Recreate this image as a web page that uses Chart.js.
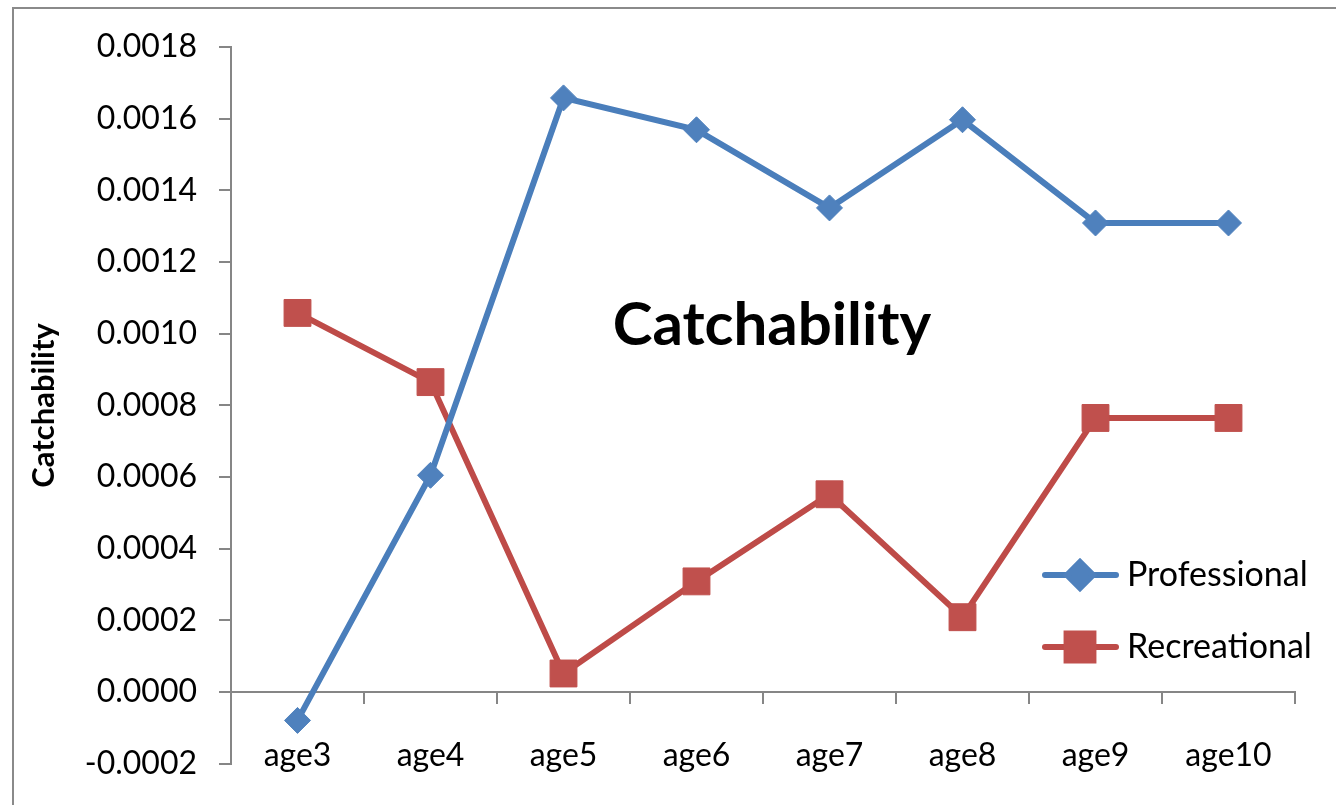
<!DOCTYPE html>
<html>
<head>
<meta charset="utf-8">
<title>Catchability</title>
<script src="https://cdn.jsdelivr.net/npm/chart.js@4"></script>
<style>
  html, body { margin: 0; padding: 0; background: #ffffff; }
  #wrap { position: relative; width: 1336px; height: 805px; }
</style>
</head>
<body>
<div id="wrap"><canvas id="chart" width="1336" height="805"></canvas></div>
<script>
// Catchability by age class for the two fleets
const categories = ['age3', 'age4', 'age5', 'age6', 'age7', 'age8', 'age9', 'age10'];
const professional = [-0.000079, 0.000605, 0.001658, 0.001569, 0.001351, 0.001597, 0.001309, 0.001309];
const recreational = [0.001058, 0.000865, 0.000052, 0.000309, 0.000552, 0.000209, 0.000765, 0.000765];
const seriesNames = ['Professional', 'Recreational'];

// Value axis range and step
const yMin = -0.0002;
const yMax = 0.0018;
const yStep = 0.0002;
const tickDecimals = 4;

const chartTitle = 'Catchability';
const yAxisTitle = 'Catchability';

const FONT = 'Lato';
const AXIS_GREY = '#868686';
const BLUE_LINE = '#4A7EBB', BLUE_MARK = '#4F81BD';
const RED_LINE = '#BE4B48', RED_MARK = '#C0504D';

// Frame, in-plot title and legend
const overlay = {
  id: 'overlay',
  beforeDraw(chart) {
    const ctx = chart.ctx;
    ctx.save();
    ctx.strokeStyle = '#8a8a8a';
    ctx.lineWidth = 2;
    ctx.strokeRect(13, 8, 1400, 900);
    ctx.restore();
  },
  afterDraw(chart) {
    const ctx = chart.ctx;
    ctx.save();
    // title inside the plot
    ctx.fillStyle = '#000';
    ctx.font = 'bold 60px ' + FONT;
    ctx.textAlign = 'center';
    ctx.textBaseline = 'middle';
    ctx.fillText(chartTitle, 772, 326);

    // legend
    const items = [
      { name: seriesNames[0], line: BLUE_LINE, mark: BLUE_MARK, style: 'rectRot', r: 13, y: 575 },
      { name: seriesNames[1], line: RED_LINE, mark: RED_MARK, style: 'rect', r: 19, y: 647 }
    ];
    items.forEach(it => {
      ctx.strokeStyle = it.line;
      ctx.lineWidth = 6;
      ctx.lineCap = 'round';
      ctx.beginPath();
      ctx.moveTo(1045, it.y);
      ctx.lineTo(1116, it.y);
      ctx.stroke();
      ctx.fillStyle = it.mark;
      ctx.strokeStyle = it.mark;
      Chart.helpers.drawPoint(ctx, { pointStyle: it.style, radius: it.r, rotation: 0, borderWidth: 1 }, 1080, it.y);
      ctx.fillStyle = '#000';
      ctx.font = '34px ' + FONT;
      ctx.textAlign = 'left';
      ctx.textBaseline = 'middle';
      ctx.fillText(it.name, 1127, it.y);
    });
    ctx.restore();
  }
};

new Chart(document.getElementById('chart'), {
  type: 'line',
  data: {
    labels: categories,
    datasets: [
      {
        label: seriesNames[0],
        data: professional,
        borderColor: BLUE_LINE,
        borderWidth: 6,
        pointStyle: 'rectRot',
        pointRadius: 13,
        pointBackgroundColor: BLUE_MARK,
        pointBorderColor: BLUE_MARK,
        pointBorderWidth: 1,
        tension: 0
      },
      {
        label: seriesNames[1],
        data: recreational,
        borderColor: RED_LINE,
        borderWidth: 6,
        pointStyle: 'rect',
        pointRadius: 19,
        pointBackgroundColor: RED_MARK,
        pointBorderColor: RED_MARK,
        pointBorderWidth: 1,
        tension: 0
      }
    ]
  },
  options: {
    responsive: false,
    animation: false,
    devicePixelRatio: 1,
    layout: { padding: { left: 0, top: 47, right: 41, bottom: 41 } },
    plugins: {
      legend: { display: false },
      title: { display: false },
      tooltip: { enabled: false }
    },
    scales: {
      x: {
        type: 'category',
        position: { y: 0 },
        offset: true,
        grid: {
          display: true,
          offset: true,
          drawOnChartArea: false,
          drawTicks: true,
          tickLength: 11,
          color: AXIS_GREY,
          lineWidth: 2
        },
        border: { display: true, color: AXIS_GREY, width: 2 },
        ticks: {
          color: '#000',
          font: { family: FONT, size: 32 },
          padding: 33,
          maxRotation: 0,
          autoSkip: false
        }
      },
      y: {
        min: yMin,
        max: yMax,
        afterFit(scale) { scale.width = 231; },
        grid: {
          display: true,
          drawOnChartArea: false,
          drawTicks: true,
          tickLength: 12,
          color: AXIS_GREY,
          lineWidth: 2
        },
        border: { display: true, color: AXIS_GREY, width: 2 },
        ticks: {
          stepSize: yStep,
          color: '#000',
          font: { family: FONT, size: 32 },
          padding: 22,
          callback: v => (Math.abs(v) < 1e-12 ? 0 : v).toFixed(tickDecimals)
        },
        title: {
          display: true,
          text: yAxisTitle,
          color: '#000',
          font: { family: FONT, size: 31, weight: 'bold' },
          padding: { top: 25, bottom: 0 }
        }
      }
    }
  },
  plugins: [overlay]
});
</script>
</body>
</html>
